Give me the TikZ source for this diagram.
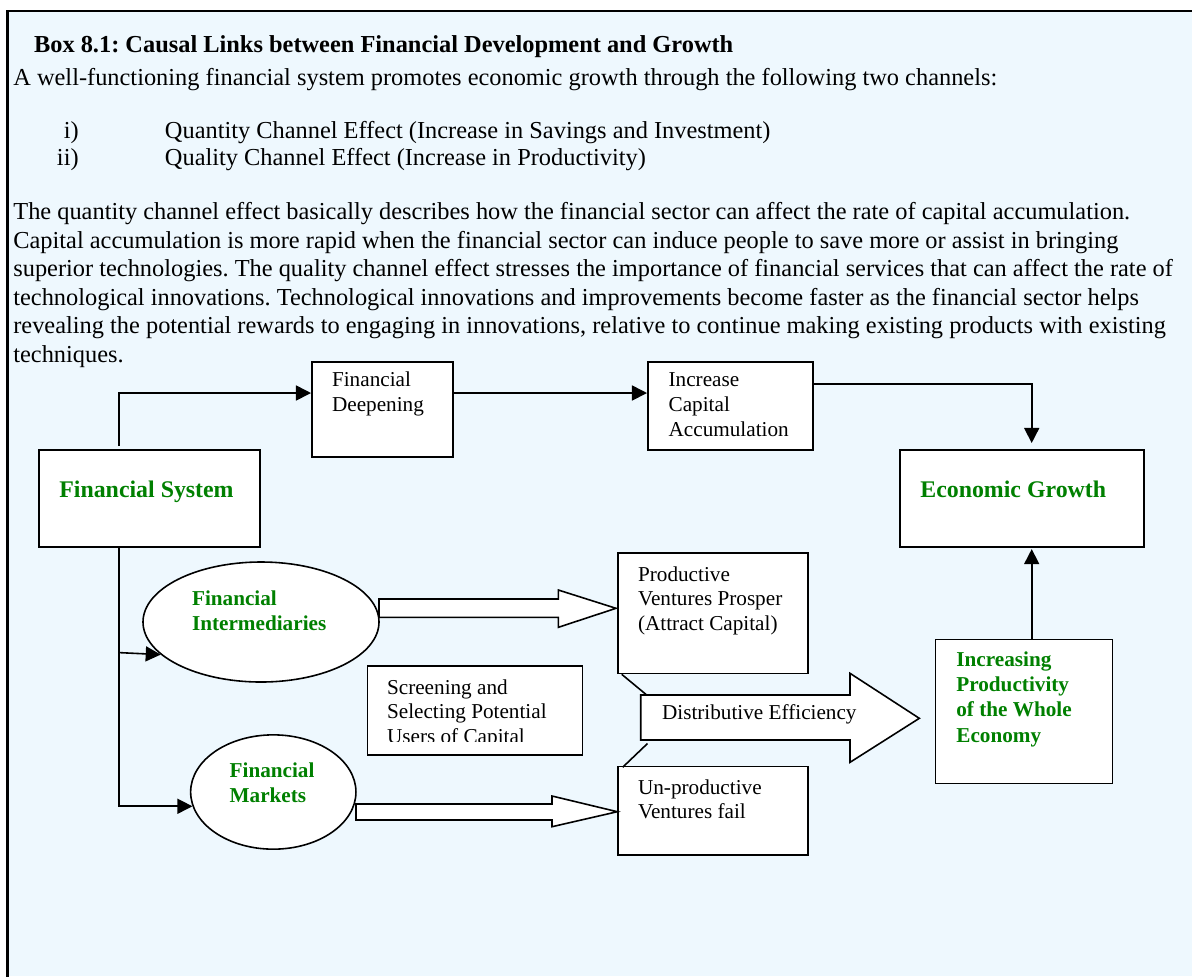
\documentclass[tikz,border=0pt]{standalone}
\usepackage{fontspec}
\setmainfont{Liberation Serif}
\usetikzlibrary{arrows.meta,shapes.geometric,calc}
\definecolor{boxbg}{RGB}{238,248,254}
\definecolor{sysgreen}{RGB}{0,128,0}
\newlength{\px}
\setlength{\px}{0.566pt}
\newcommand{\tp}{\rule{0pt}{10pt}}
\frenchspacing

\begin{document}
\begin{tikzpicture}[x=0.566pt,y=-0.566pt,
    box/.style={draw,fill=white,line width=0.9pt,inner sep=0pt,anchor=north west},
    oval/.style={ellipse,draw,fill=white,line width=0.9pt,inner sep=0pt},
    txt/.style={inner sep=0pt,align=left,anchor=north west,font=\fontsize{12}{14}\selectfont},
    gtxt/.style={txt,text=sysgreen,font=\fontsize{12}{14.2}\selectfont\bfseries},
    head/.style={inner sep=0pt,anchor=base west,text=sysgreen,font=\fontsize{13.5}{16}\selectfont\bfseries},
    textline/.style={inner sep=0pt,anchor=base west,font=\fontsize{13.8}{16}\selectfont},
    link/.style={line width=0.9pt,-{Triangle[length=8.5pt,width=8.5pt]}},
    fat/.style={draw,fill=white,line width=0.9pt}]
  \useasboundingbox (0,0) rectangle (1192,976);
  \fill[white] (0,0) rectangle (1192,976);
  \fill[boxbg] (7.3,11) rectangle (1192,976);
  \draw[line width=1.4pt] (7.3,990) -- (7.3,11) -- (1200,11);

  % text of the box
  \node[textline,font=\fontsize{13.8}{16}\selectfont\bfseries] (title) at (33.7,52) {Box 8.1: Causal Links between Financial Development and Growth};
  \node[textline] (intro) at (13,85.5) {A well-functioning financial system promotes economic growth through the following two channels:};
  \node[textline,anchor=base east] (n1) at (79,138) {i)};
  \node[textline] (c1) at (164.6,138) {Quantity Channel Effect (Increase in Savings and Investment)};
  \node[textline,anchor=base east] (n2) at (79,165) {ii)};
  \node[textline] (c2) at (164.6,165) {Quality Channel Effect (Increase in Productivity)};
  \node[textline] (p1) at (13,219.5) {The quantity channel effect basically describes how the financial sector can affect the rate of capital accumulation.};
  \node[textline] (p2) at (13,248) {Capital accumulation is more rapid when the financial sector can induce people to save more or assist in bringing};
  \node[textline] (p3) at (13,276.5) {superior technologies. The quality channel effect stresses the importance of financial services that can affect the rate of};
  \node[textline] (p4) at (13,305) {technological innovations. Technological innovations and improvements become faster as the financial sector helps};
  \node[textline] (p5) at (13,333.5) {revealing the potential rewards to engaging in innovations, relative to continue making existing products with existing};
  \node[textline] (p6) at (13,362) {techniques.};

  % boxes
  \node[box,minimum width=221*\px,minimum height=97*\px] (fs) at (38,449) {};
  \node[box,minimum width=141*\px,minimum height=95*\px] (fd) at (311,361) {};
  \node[box,minimum width=165*\px,minimum height=88*\px] (ica) at (647,361) {};
  \node[box,minimum width=244*\px,minimum height=97*\px] (eg) at (899,449) {};
  \node[box,minimum width=190*\px,minimum height=120.4*\px] (pv) at (617.3,552.3) {};
  \node[box,minimum width=215*\px,minimum height=89*\px] (scr) at (366.7,665) {};
  \node[box,minimum width=190*\px,minimum height=88.6*\px] (up) at (617.3,765.7) {};
  \node[box,minimum width=177*\px,minimum height=144*\px] (ip) at (934.7,638.7) {};
  \node[oval,minimum width=236*\px,minimum height=120*\px] (fi) at (261,622) {};
  \node[oval,minimum width=165.3*\px,minimum height=114.3*\px] (fm) at (273.3,792) {};

  \node[head] (fstext) at (59,497) {Financial System};
  \node[head] (egtext) at (920,497) {Economic Growth};
  \node[txt] (fdtext) at (331.7,368.8) {\tp Financial\\Deepening};
  \node[txt] (icatext) at (668.3,368.8) {\tp Increase\\Capital\\Accumulation};
  \node[txt] (pvtext) at (637.7,563) {\tp Productive\\Ventures Prosper\\(Attract Capital)};
  \node[txt] (uptext) at (637.7,776) {\tp Un-productive\\Ventures fail};
  \begin{scope}
    \clip (366.7,665) rectangle (581.7,741.5);
    \node[txt] (scrtext) at (386.7,676) {\tp Screening and\\Selecting Potential\\Users of Capital};
  \end{scope}
  \node[gtxt] (fitext) at (191.7,587) {\tp Financial\\Intermediaries};
  \node[gtxt] (fmtext) at (229.3,759.3) {\tp Financial\\Markets};
  \node[gtxt] (iptext) at (956,648.7) {\tp Increasing\\Productivity\\of the Whole\\Economy};

  % connectors
  \draw[link] ($(fs.north west)+(81,-3)$) |- ($(fd.north west)+(0,32)$);
  \draw[link] ($(fd.north east)+(0,32)$) -- ($(ica.north west)+(0,32)$);
  \draw[link] ($(ica.north east)+(0,23)$) -| ($(eg.north west)+(132.7,-6)$);
  \draw[link] ($(ip.north west)+(97,0)$) -- ($(eg.south west)+(132.7,1.5)$);
  \draw[link] ($(fs.south west)+(81,0)$) |- (fm.190);
  \draw[link] ($(fs.south west)+(81,105)$) -- (fi.198);

  % hollow arrows
  \draw[fat] (379,599) -- (558.3,599) -- (558.3,590) -- (616,608.3) -- (558.3,627.3) -- (558.3,617.3) -- (379,617.3) -- cycle;
  \draw[fat] (356,804) -- (552,804) -- (552,796) -- (617.3,811.7) -- (552,826.7) -- (552,820) -- (356,820) -- cycle;
  \draw[line width=0.9pt] ($(pv.south west)+(4.4,0)$) -- (646.7,695);
  \draw[line width=0.9pt] (647.5,743.5) -- ($(up.north west)+(5.4,1.5)$);
  \draw[fat] (640.7,695) -- (850,695) -- (850,673.3) -- (919.3,718.3) -- (850,762.3) -- (850,740) -- (640.7,740) -- cycle;
  \node[textline,font=\fontsize{12}{14}\selectfont] (detext) at (661.7,719) {Distributive Efficiency};
\end{tikzpicture}
\end{document}
